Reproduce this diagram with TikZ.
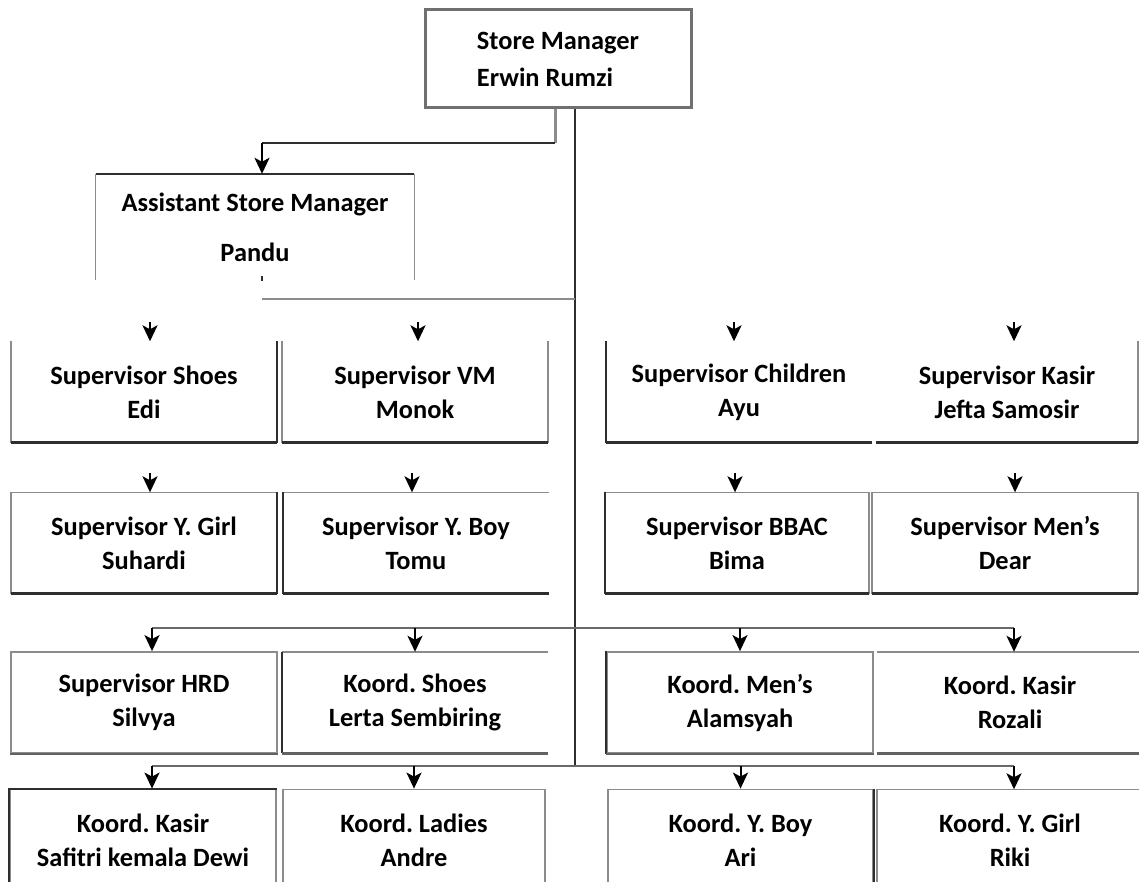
\documentclass[tikz,border=0pt]{standalone}
\usepackage{fontspec}
\setmainfont{Carlito}
\usetikzlibrary{arrows.meta}
\definecolor{edgegrey}{gray}{0.55}
\definecolor{edgedark}{gray}{0.18}
\frenchspacing
\begin{document}
\begin{tikzpicture}[x=1pt,y=-1pt,
  txt/.style={font=\fontsize{26.4}{34}\selectfont\bfseries, align=center, inner sep=0pt},
  cell/.style={txt, minimum width=266pt, minimum height=101pt},
  framed/.style={draw=edgegrey, line width=1.8pt},
  side/.style={draw=edgegrey, line width=1.5pt},
  sidedark/.style={draw=edgedark, line width=2pt},
  base/.style={draw=edgedark, line width=2.6pt},
  basegrey/.style={draw=edgegrey!70!black, line width=2.6pt},
  bus/.style={draw=edgegrey!75!black, line width=2.2pt},
  trunkline/.style={draw=edgedark, line width=2.2pt},
  arr/.style={draw=black, line width=2pt, -{Stealth[length=16pt,width=15pt,inset=4pt]}},
]
\useasboundingbox (0,0) rectangle (1139,882);
\fill[white] (0,0) rectangle (1139,882);
\clip (0,0) rectangle (1139,882);

% ---- top management ----
\node[txt, align=left, draw=edgegrey!80!black, line width=3pt,
      minimum width=266pt, minimum height=98pt] (sm) at (558,59)
      {Store Manager\\[3pt]Erwin Rumzi};
\node[txt, minimum width=318pt, minimum height=106pt] (asm) at (255,227)
      {Assistant Store Manager\\[16pt]Pandu};
\draw[sidedark] (asm.north west) -- (asm.north east);
\draw[side, line width=1.1pt] (asm.north west) -- (asm.south west);
\draw[side, line width=1.1pt] (asm.north east) -- (asm.south east);

% ---- row 2 ----
\node[cell] (shoes)  at (144,392) {Supervisor Shoes\\Edi};
\node[cell] (vm)     at (415,392) {Supervisor VM\\Monok};
\node[cell] (child)  at (739,392) {Supervisor Children\\Ayu};
\node[cell, minimum width=262pt] (skasir) at (1007,392) {Supervisor Kasir\\Jefta Samosir};
\draw[side] (shoes.north west) -- (shoes.south west);
\draw[sidedark] (shoes.north east) -- (shoes.south east);
\draw[side] (vm.north west) -- (vm.south west);
\draw[side] (vm.north east) -- (vm.south east);
\draw[sidedark] (child.north west) -- (child.south west);
\draw[side] (skasir.north east) -- (skasir.south east);

% ---- row 3 ----
\node[cell] (ygirl) at (144,543) {Supervisor Y. Girl\\Suhardi};
\node[cell] (yboy)  at (416,543) {Supervisor Y. Boy\\Tomu};
\node[cell, minimum width=264pt] (bbac) at (737,543) {Supervisor BBAC\\Bima};
\node[cell] (mens)  at (1005,543) {Supervisor Men’s\\Dear};
\draw[side] (ygirl.south west) -- (ygirl.north west) -- (ygirl.north east);
\draw[sidedark] (ygirl.north east) -- (ygirl.south east);
\draw[side] (yboy.north west) -- (yboy.north east);
\draw[sidedark] (yboy.north west) -- (yboy.south west);
\draw[side] (bbac.north west) -- (bbac.north east) -- (bbac.south east);
\draw[sidedark] (bbac.north west) -- (bbac.south west);
\draw[side] (mens.south west) -- (mens.north west) -- (mens.north east) -- (mens.south east);
\foreach \n in {shoes,vm,child,skasir,ygirl,yboy,bbac,mens}
  \draw[base] (\n.south west) -- (\n.south east);

% ---- row 4 ----
\node[cell, framed] (hrd)    at (144,702.5) {Supervisor HRD\\Silvya};
\node[cell] (kshoes) at (415,702.5) {Koord. Shoes\\Lerta Sembiring};
\node[cell, framed] (kmens)  at (740,702.5) {Koord. Men’s\\Alamsyah};
\node[cell] (kkasir) at (1010,702.5) {Koord. Kasir\\Rozali};
\draw[side] (kshoes.north east) -- (kshoes.north west);
\draw[sidedark] (kshoes.north west) -- (kshoes.south west);
\draw[sidedark] (kmens.north west) -- (kmens.south west);
\draw[side] (kkasir.north west) -- (kkasir.north east);
\foreach \n in {hrd,kshoes,kmens,kkasir}
  \draw[basegrey] (\n.south west) -- (\n.south east);

% ---- row 5 ----
\node[cell, framed] (kkasirb) at (143,840) {Koord. Kasir\\Safitri kemala Dewi};
\node[cell, framed, minimum width=262pt] (kladies) at (414,840) {Koord. Ladies\\Andre};
\node[cell, framed, minimum width=265pt] (kyboy) at (740.5,840) {Koord. Y. Boy\\Ari};
\node[cell] (kygirl) at (1010,840) {Koord. Y. Girl\\Riki};
\draw[sidedark] (kkasirb.south west) -- (kkasirb.north west) -- (kkasirb.north east);
\draw[sidedark] (kyboy.north east) -- (kyboy.south east);
\draw[side] (kygirl.south west) -- (kygirl.north west) -- (kygirl.north east);

% ---- connectors ----
\coordinate (ka) at (555,143);
\coordinate (kb) at (262,143);
\draw[side, line width=3pt] (sm.south -| ka) -- (ka);
\draw[sidedark, line width=2.4pt] (ka) -- (kb);
\draw[arr] (kb) -- (kb |- asm.north);

\coordinate (tbot) at (575,766);
\draw[trunkline] (sm.south -| tbot) -- (tbot);

\coordinate (af) at (262,299);
\coordinate (at) at (262,276);
\draw[side, line width=2.6pt] (af) -- (af -| tbot);
\draw[sidedark, line width=1.5pt] (at) -- ++(0,5);

% row 2 and row 3 arrowheads
\coordinate (p21) at (150,322);
\coordinate (p22) at (418,322);
\coordinate (p23) at (734,322);
\coordinate (p24) at (1014,322);
\draw[arr] (p21) -- (p21 |- shoes.north);
\draw[arr] (p22) -- (p22 |- vm.north);
\draw[arr] (p23) -- (p23 |- child.north);
\draw[arr] (p24) -- (p24 |- skasir.north);
\coordinate (p31) at (150,473);
\coordinate (p32) at (412,473);
\coordinate (p33) at (735,473);
\coordinate (p34) at (1015,473);
\draw[arr] (p31) -- (p31 |- ygirl.north);
\draw[arr] (p32) -- (p32 |- yboy.north);
\draw[arr] (p33) -- (p33 |- bbac.north);
\draw[arr] (p34) -- (p34 |- mens.north);

% row 4 bus
\coordinate (b4l) at (152,628);
\coordinate (b4r) at (1014,628);
\draw[bus] (b4l) -- (b4r);
\draw[arr] (b4l) -- (b4l |- hrd.north);
\draw[arr] (kshoes.north |- b4l) -- (kshoes.north);
\draw[arr] (kmens.north |- b4l) -- (kmens.north);
\draw[arr] (b4r) -- (b4r |- kkasir.north);

% row 5 bus
\coordinate (b5l) at (152,766);
\coordinate (b5r) at (1014,766);
\draw[bus] (b5l) -- (b5r);
\draw[arr] (b5l) -- (b5l |- kkasirb.north);
\draw[arr] (kladies.north |- b5l) -- (kladies.north);
\draw[arr] (kyboy.north |- b5l) -- (kyboy.north);
\draw[arr] (b5r) -- (b5r |- kygirl.north);
\end{tikzpicture}
\end{document}
